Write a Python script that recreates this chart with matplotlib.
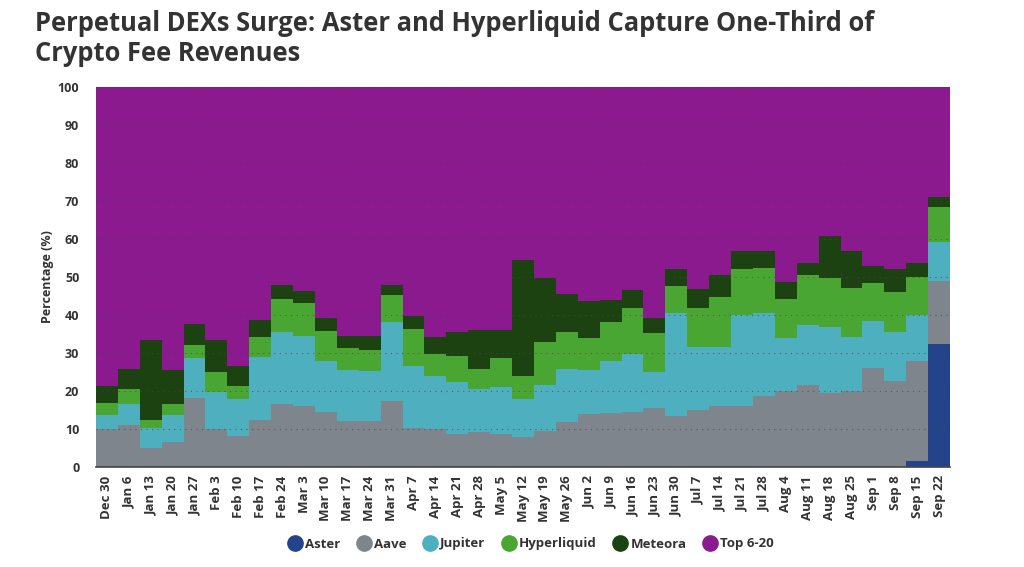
import numpy as np
import matplotlib
matplotlib.use("Agg")
import matplotlib.pyplot as plt
from matplotlib.lines import Line2D

plt.rcParams['font.family'] = ['Open Sans', 'DejaVu Sans']

weeks = ["Dec 30", "Jan 6", "Jan 13", "Jan 20", "Jan 27", "Feb 3", "Feb 10", "Feb 17",
         "Feb 24", "Mar 3", "Mar 10", "Mar 17", "Mar 24", "Mar 31", "Apr 7", "Apr 14",
         "Apr 21", "Apr 28", "May 5", "May 12", "May 19", "May 26", "Jun 2", "Jun 9",
         "Jun 16", "Jun 23", "Jun 30", "Jul 7", "Jul 14", "Jul 21", "Jul 28", "Aug 4",
         "Aug 11", "Aug 18", "Aug 25", "Sep 1", "Sep 8", "Sep 15", "Sep 22"]

# cumulative tops
aster_top = [0]*37 + [1.7, 32.4]
aave_top = [10.1, 11.0, 4.9, 6.7, 18.2, 9.9, 8.2, 12.5, 16.5, 16.1, 14.4, 12.2, 12.1, 17.4,
            10.3, 10.1, 8.8, 9.2, 8.6, 7.8, 9.6, 11.9, 14.0, 14.1, 14.6, 15.6, 13.5, 15.1,
            16.1, 16.1, 18.8, 20.1, 21.5, 19.6, 19.9, 26.0, 22.6, 27.8, 49.0]
jupiter_top = [13.6, 16.5, 10.3, 13.6, 28.6, 19.7, 17.8, 28.9, 35.5, 34.6, 27.8, 25.6, 25.2,
               38.1, 26.5, 23.9, 22.4, 20.4, 21.0, 18.0, 21.7, 25.9, 25.6, 27.8, 29.8, 25.0,
               40.5, 31.5, 31.7, 40.0, 40.6, 33.9, 37.4, 36.9, 34.3, 38.3, 35.6, 40.0, 59.3]
hyper_top = [16.9, 20.6, 12.5, 16.7, 32.0, 25.0, 21.4, 34.1, 44.2, 43.1, 35.9, 31.3, 30.9,
             45.2, 36.2, 29.7, 29.3, 25.9, 28.7, 23.9, 32.8, 35.5, 33.9, 38.1, 41.8, 35.2,
             47.7, 41.8, 44.7, 52.1, 52.5, 44.2, 50.4, 49.8, 47.2, 48.4, 46.1, 50.0, 68.4]
meteora_top = [21.2, 25.9, 33.3, 25.6, 37.7, 33.4, 26.6, 38.7, 47.9, 46.4, 39.1, 34.5, 34.5,
               47.8, 39.7, 34.2, 35.5, 36.1, 36.1, 54.4, 49.7, 45.4, 43.7, 43.9, 46.7, 39.2,
               52.1, 46.9, 50.5, 56.8, 56.8, 48.6, 53.7, 60.7, 56.8, 52.8, 52.1, 53.6, 71.1]

aster = np.array(aster_top)
aave = np.array(aave_top) - aster
jupiter = np.array(jupiter_top) - np.array(aave_top)
hyperliquid = np.array(hyper_top) - np.array(jupiter_top)
meteora = np.array(meteora_top) - np.array(hyper_top)
top620 = 100 - np.array(meteora_top)

series_names = ["Aster", "Aave", "Jupiter", "Hyperliquid", "Meteora", "Top 6-20"]
series_vals = [aster, aave, jupiter, hyperliquid, meteora, top620]
colors = ["#23438b", "#7f858d", "#4eafbf", "#4aa632", "#1c4212", "#8b1a8f"]

fig = plt.figure(figsize=(10.24, 5.67), dpi=100)
ax = fig.add_axes([96/1024, 1-467/567, 854/1024, 380/567])

n = len(weeks)
x_edges = np.arange(n + 1) - 0.5
base = np.zeros(n)
for name, vals, c in zip(series_names, series_vals, colors):
    top = base + vals
    ax.fill_between(x_edges, np.append(base, base[-1]), np.append(top, top[-1]),
                    step='post', color=c, linewidth=0, zorder=1)
    base = top

ax.set_xlim(-0.5, n - 0.5)
ax.set_ylim(0, 100)
ax.set_yticks(np.arange(0, 101, 10))
ax.set_xticks(np.arange(n))
ax.set_xticklabels(weeks, rotation=90, fontsize=9.5, fontweight='bold', color='#333333')
for lab in ax.get_yticklabels():
    lab.set_fontsize(9)
    lab.set_fontweight('bold')
    lab.set_color('#333333')
ax.tick_params(axis='y', length=0, pad=12)
ax.tick_params(axis='x', length=0, pad=6)

ax.grid(axis='y', linestyle=(0, (1, 4)), color='#444444', linewidth=0.8, alpha=0.7, zorder=2)
ax.set_axisbelow(False)
for s in ['top', 'right', 'left']:
    ax.spines[s].set_visible(False)
ax.spines['bottom'].set_color('#444444')
ax.spines['bottom'].set_linewidth(1.2)
ax.spines['bottom'].set_zorder(3)

ax.set_ylabel("Percentage (%)", fontsize=9, fontweight='bold', color='#333333', labelpad=3)

fig.text(35/1024, 1-10/567, "Perpetual DEXs Surge: Aster and Hyperliquid Capture One-Third of\nCrypto Fee Revenues",
         fontsize=18.4, fontweight='bold', color='#333333', va='top', ha='left', linespacing=1.12)

handles = [Line2D([0], [0], marker='o', linestyle='none', markersize=11,
                  markerfacecolor=c, markeredgecolor=c) for c in colors]
fig.legend(handles, series_names, loc='center', bbox_to_anchor=(531/1024, 1-544/567),
           ncol=6, frameon=False, prop={'weight': 'bold', 'size': 9.5},
           handlelength=1.0, handletextpad=0.3, columnspacing=1.25, labelcolor='#333333')

fig.savefig("out.png", dpi=100)
